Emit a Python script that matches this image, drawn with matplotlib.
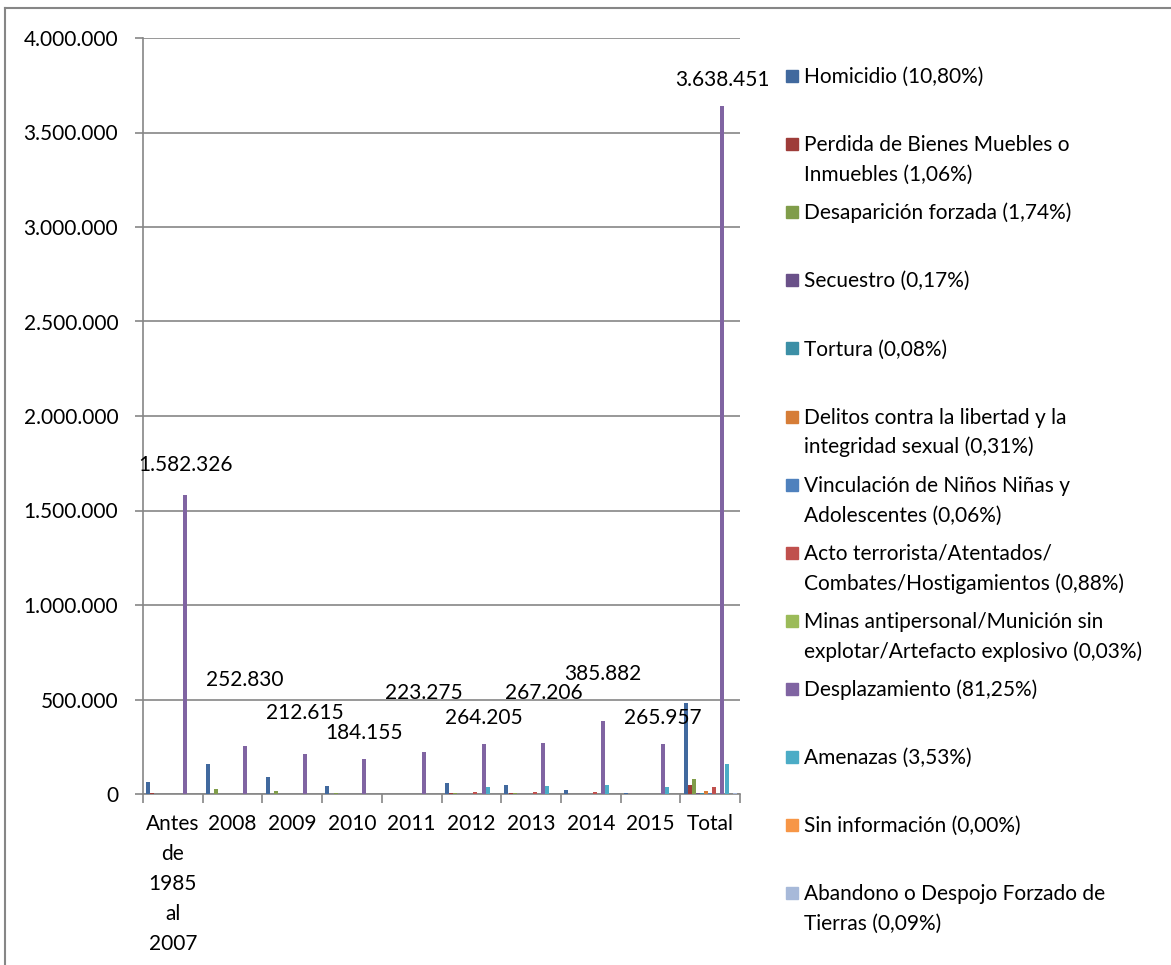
import numpy as np
import matplotlib
matplotlib.use("Agg")
import matplotlib.pyplot as plt
from matplotlib.lines import Line2D
from matplotlib.patches import Rectangle
from matplotlib.ticker import FuncFormatter, MultipleLocator

plt.rcParams["font.family"] = ["Lato", "DejaVu Sans"]

categories = ["Antes\nde\n1985\nal\n2007", "2008", "2009", "2010", "2011",
              "2012", "2013", "2014", "2015", "Total"]

homicidio = [66000, 158000, 92000, 40000, 0, 56000, 45000, 20000, 7000, 483634]
perdida = [5000, 2000, 1500, 1000, 0, 3000, 3000, 2500, 2000, 47468]
desaparicion = [2000, 28000, 18000, 7000, 0, 5000, 4000, 1000, 500, 77919]
secuestro = [1000, 500, 500, 300, 0, 300, 300, 200, 200, 7613]
tortura = [500, 200, 200, 100, 0, 200, 200, 100, 100, 3582]
delitos = [1000, 500, 500, 500, 0, 1500, 1500, 1500, 2500, 13882]
vinculacion = [300, 200, 200, 200, 0, 300, 300, 300, 200, 2687]
acto = [2000, 1500, 1500, 1500, 0, 12000, 10000, 8000, 1500, 39407]
minas = [200, 100, 100, 100, 0, 200, 200, 200, 100, 1343]
desplazamiento = [1582326, 252830, 212615, 184155, 223275, 264205, 267206,
                  385882, 265957, 3638451]
amenazas = [0, 0, 0, 0, 0, 38000, 40000, 45000, 35000, 158077]
sin_info = [0, 0, 0, 0, 0, 0, 0, 0, 0, 100]
abandono = [0, 0, 0, 0, 0, 800, 800, 800, 800, 4030]

series = [
    ("Homicidio (10,80%)", homicidio, "#41699E"),
    ("Perdida de Bienes Muebles o\nInmuebles (1,06%)", perdida, "#9E3C39"),
    ("Desaparición forzada (1,74%)", desaparicion, "#809D4A"),
    ("Secuestro (0,17%)", secuestro, "#6A5189"),
    ("Tortura (0,08%)", tortura, "#3C8FA6"),
    ("Delitos contra la libertad y la\nintegridad sexual (0,31%)", delitos, "#D67D37"),
    ("Vinculación de Niños Niñas y\nAdolescentes (0,06%)", vinculacion, "#4F81BD"),
    ("Acto terrorista/Atentados/\nCombates/Hostigamientos (0,88%)", acto, "#C0504D"),
    ("Minas antipersonal/Munición sin\nexplotar/Artefacto explosivo (0,03%)", minas, "#9BBB59"),
    ("Desplazamiento (81,25%)", desplazamiento, "#8064A2"),
    ("Amenazas (3,53%)", amenazas, "#4BACC6"),
    ("Sin información (0,00%)", sin_info, "#F79646"),
    ("Abandono o Despojo Forzado de\nTierras (0,09%)", abandono, "#A7B9D9"),
]

# label offsets (pixels above bar top) for the Desplazamiento values
label_offsets = [30, 66, 41, 26, 59, 26, 50, 47, 26, 26]

W, H = 1171, 965
fig = plt.figure(figsize=(W / 100, H / 100), dpi=100)
ax = fig.add_axes([143 / W, 1 - 794 / H, 597 / W, 756 / H])

grey = "#868686"
x = np.arange(len(categories))
n = len(series)
bw = 0.893 / n
for i, (name, vals, col) in enumerate(series):
    pos = x - 0.893 / 2 + bw * (i + 0.5)
    ax.bar(pos, vals, width=bw * 0.98, color=col, zorder=3)
    if name.startswith("Desplazamiento"):
        for px, v, off in zip(pos, vals, label_offsets):
            ax.annotate(f"{v:,}".replace(",", "."), (px, v), xytext=(0, off),
                        textcoords="offset pixels", ha="center", va="center",
                        fontsize=15, color="black", zorder=5)

ax.set_xlim(-0.5, len(categories) - 0.5)
ax.set_ylim(0, 4000000)
ax.yaxis.set_major_locator(MultipleLocator(500000))
ax.yaxis.set_major_formatter(FuncFormatter(lambda v, p: f"{int(v):,}".replace(",", ".")))
ax.grid(axis="y", color=grey, lw=1.2, zorder=0)
ax.set_axisbelow(True)

ax.set_xticks(x)
ax.set_xticklabels(categories, fontsize=15, linespacing=1.62)
ax.set_xticks(np.arange(-0.5, len(categories)), minor=True)
ax.tick_params(axis="x", which="major", length=0, pad=14.5)
ax.tick_params(axis="x", which="minor", length=6.5, width=1.2, color=grey)
ax.tick_params(axis="y", length=5.8, width=1.2, color=grey, pad=12, labelsize=15)

for s in ["top", "right"]:
    ax.spines[s].set_visible(False)
for s in ["left", "bottom"]:
    ax.spines[s].set_color(grey)
    ax.spines[s].set_linewidth(1.2)

# legend drawn by hand, one slot per series
y0, step, line_h = 76, 68.1, 30
for i, (name, vals, col) in enumerate(series):
    yc = y0 + step * i
    fig.patches.append(Rectangle((786 / W, 1 - (yc + 6) / H), 12 / W, 12 / H,
                                 transform=fig.transFigure, color=col))
    for k, line in enumerate(name.split("\n")):
        fig.text(804 / W, 1 - (yc + line_h * k + 7) / H, line, fontsize=15,
                 ha="left", va="baseline", color="black")

# chart frame
fig.lines.append(Line2D([5 / W, 5 / W], [0, 1 - 8 / H], transform=fig.transFigure,
                        color=grey, lw=1.5))
fig.lines.append(Line2D([5 / W, 1], [1 - 8 / H, 1 - 8 / H], transform=fig.transFigure,
                        color=grey, lw=1.5))

fig.savefig("out.png", dpi=100)
